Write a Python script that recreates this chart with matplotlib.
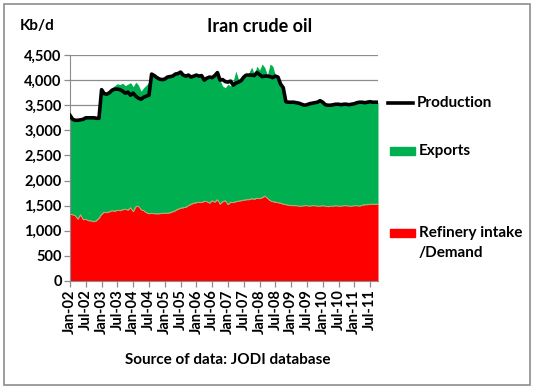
import matplotlib
matplotlib.use("Agg")
import matplotlib.pyplot as plt
from matplotlib.patches import Rectangle
from matplotlib.lines import Line2D
import numpy as np

# Monthly data, Jan-02 .. Oct-11 (kb/d)
production = [
    3300,
    3220, 3200, 3200, 3210, 3220,
    3250, 3250, 3250, 3250, 3240, 3240,
    3810, 3730, 3720, 3750, 3800, 3820, 3820, 3810, 3780, 3740, 3760, 3700, 3740, 3680, 3640, 3620, 3660, 3680, 3700,
    4120, 4090, 4050, 4020, 4010, 4020, 4060, 4070, 4080, 4120, 4130, 4160, 4100, 4080, 4100, 4060, 4080, 4100, 4080, 4090, 4000, 4040, 4060, 4050, 4090, 4150,
    4000, 4010, 3970, 3960, 3980, 3900, 3940, 3960, 3990, 4060, 4100, 4100, 4100, 4090, 4150, 4110, 4070, 4080, 4080, 4070, 4050,
    4080, 4060, 3920, 3850, 3570,
    3560, 3560, 3560, 3550, 3540, 3520, 3500, 3510, 3530, 3540, 3550, 3560, 3590, 3560, 3510, 3500, 3500, 3510, 3520, 3520,
    3510, 3520, 3520, 3510, 3520, 3530, 3550, 3560, 3560, 3550, 3560, 3570, 3560, 3560, 3560,
]

refinery = [
    1330, 1320, 1300, 1230, 1320, 1220, 1230, 1200, 1200, 1180, 1200, 1250,
    1330, 1370, 1360, 1380, 1400, 1390, 1410, 1400, 1420, 1430, 1410, 1460, 1380, 1480, 1490, 1420, 1400, 1360, 1340,
    1350, 1340, 1340, 1340, 1350, 1350, 1350, 1360, 1380, 1400, 1430, 1450, 1460, 1470, 1500, 1530, 1550, 1560, 1570, 1560, 1590, 1580, 1550, 1600, 1570, 1620,
    1530, 1580, 1600, 1520, 1570, 1560, 1580, 1590, 1600, 1610, 1620, 1620, 1640, 1630, 1650, 1640, 1660, 1690, 1650, 1600, 1580, 1570, 1560, 1550, 1530, 1520,
    1510, 1500, 1500, 1500, 1490, 1490, 1500, 1500, 1490, 1500, 1500, 1490, 1490, 1500, 1490, 1480, 1490, 1490, 1500, 1490,
    1490, 1500, 1500, 1490, 1490, 1500, 1500, 1490, 1510, 1520, 1520, 1530, 1530, 1530, 1530,
]

exports = [
    1970, 1900, 1900, 1970, 1890, 2000, 2020, 2050, 2050, 2070, 2040, 1990,
    2480, 2370, 2400, 2420, 2450, 2500, 2520, 2510, 2520, 2460, 2510, 2490, 2490, 2480, 2410, 2360, 2450, 2540, 2620,
    2770, 2750, 2710, 2680, 2660, 2670, 2710, 2710, 2700, 2720, 2700, 2710, 2640, 2610, 2600, 2530, 2530, 2540, 2510, 2530, 2410, 2460, 2510, 2450, 2520, 2530,
    2470, 2300, 2250, 2400, 2310, 2420, 2600, 2430, 2400, 2530, 2440, 2530, 2620, 2490, 2630, 2560, 2660, 2560, 2450, 2720, 2700, 2530, 2500, 2370, 2320, 2050,
    2050, 2060, 2060, 2050, 2050, 2030, 2000, 2010, 2040, 2040, 2050, 2070, 2100, 2060, 2020, 2020, 2010, 2020, 2020, 2030,
    2020, 2020, 2020, 2020, 2030, 2030, 2050, 2070, 2050, 2030, 2040, 2040, 2030, 2030, 2030,
]

tick_labels = ["Jan-02", "Jul-02", "Jan-03", "Jul-03", "Jan-04", "Jul-04", "Jan-05", "Jul-05",
               "Jan-06", "Jul-06", "Jan-07", "Jul-07", "Jan-08", "Jul-08", "Jan-09", "Jul-09",
               "Jan-10", "Jul-10", "Jan-11", "Jul-11"]

assert len(production) == len(refinery) == len(exports), (len(production), len(refinery), len(exports))

FONT = "Lato"
plt.rcParams['font.family'] = [FONT, 'DejaVu Sans']

n = len(production)
x = np.arange(n)
ref = np.array(refinery, float)
exp_ = np.array(exports, float)

fig = plt.figure(figsize=(5.34, 3.91), dpi=100)
fig.patches.append(Rectangle((4/534, 6/391), 526/534, 381/391, transform=fig.transFigure,
                             fill=False, edgecolor="#8c8c8c", linewidth=1.2))

ax = fig.add_axes([70/534, 1 - 281/391, (378 - 70)/534, (281 - 55)/391])
ax.fill_between(x, 0, ref, color="#FF0000", linewidth=0, zorder=2)
ax.fill_between(x, ref, ref + exp_, color="#00B050", linewidth=0, zorder=2)
ax.plot(x, ref, color="#d8a878", linewidth=0.6, zorder=3)
ax.plot(x, production, color="black", linewidth=2.6, zorder=4)

ax.set_xlim(0, n - 1)
ax.set_ylim(0, 4500)
ax.set_yticks(np.arange(0, 4501, 500))
ax.set_yticklabels([f"{v:,}" for v in range(0, 4501, 500)], fontsize=10.5, fontweight="bold")
ax.yaxis.grid(True, color="#8c8c8c", linewidth=0.9)
ax.set_axisbelow(True)
ax.set_xticks(np.arange(0, 6 * len(tick_labels), 6))
ax.set_xticklabels(tick_labels, rotation=90, fontsize=10.5, fontweight="bold")
for s in ["top", "right"]:
    ax.spines[s].set_visible(False)
for s in ["left", "bottom"]:
    ax.spines[s].set_color("#8c8c8c")
ax.tick_params(axis="both", colors="#8c8c8c", labelcolor="black", length=4, width=0.9, pad=2)

fig.text(260/534, 1 - 26/391, "Iran crude oil", ha="center", va="center", fontsize=13, fontweight="bold")
fig.text(37/534, 1 - 26/391, "Kb/d", ha="center", va="center", fontsize=11, fontweight="bold")
fig.text(228/534, 1 - 360/391, "Source of data: JODI database", ha="center", va="center", fontsize=11, fontweight="bold")

# legend
fig.lines.append(Line2D([388/534, 413/534], [1 - 103/391, 1 - 103/391], transform=fig.transFigure,
                        color="black", linewidth=2.6))
fig.text(417/534, 1 - 103/391, "Production", ha="left", va="center", fontsize=11, fontweight="bold")
fig.patches.append(Rectangle((390/534, 1 - 155/391), 25/534, 8/391, transform=fig.transFigure,
                             color="#00B050"))
fig.text(419/534, 1 - 151/391, "Exports", ha="left", va="center", fontsize=11, fontweight="bold")
fig.patches.append(Rectangle((390/534, 1 - 237/391), 25/534, 8/391, transform=fig.transFigure,
                             color="#FF0000"))
fig.text(419/534, 1 - 233/391, "Refinery intake", ha="left", va="center", fontsize=11, fontweight="bold")
fig.text(419/534, 1 - 253/391, "/Demand", ha="left", va="center", fontsize=11, fontweight="bold")

fig.savefig("out.png", dpi=100)
